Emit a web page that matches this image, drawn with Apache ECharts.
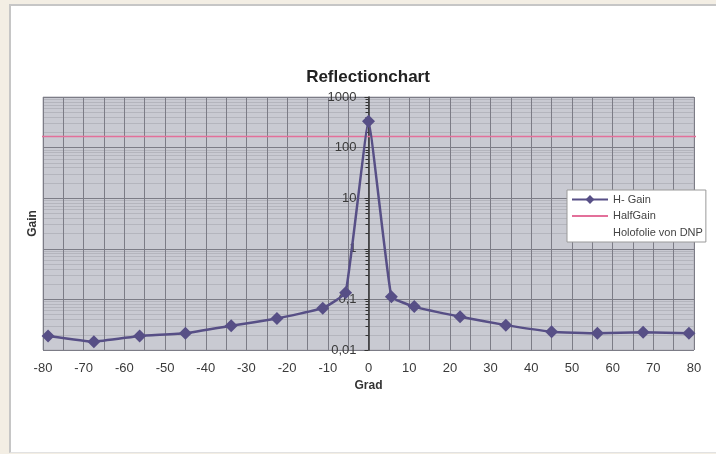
<!DOCTYPE html>
<html>
<head>
<meta charset="utf-8">
<script src="https://cdn.jsdelivr.net/npm/echarts@6/dist/echarts.min.js"></script>
<style>
  html, body { margin: 0; padding: 0; width: 716px; height: 454px; overflow: hidden; background: #f3eee4; }
  #frame { position: absolute; left: 9px; top: 4px; width: 707px; height: 446px; background: #ffffff;
           border-left: 2px solid #c6c6c6; border-top: 2px solid #c6c6c6; border-bottom: 1px solid #e2e2e2; }
  #chart { position: absolute; left: 0; top: 0; width: 716px; height: 454px; }
</style>
</head>
<body>
<div id="frame"></div>
<div id="chart"></div>
<script>
// Data
const angles = [-78.75, -67.5, -56.25, -45, -33.75, -22.5, -11.25, -5.625, 0, 5.625, 11.25, 22.5, 33.75, 45, 56.25, 67.5, 78.75];
const hGain  = [0.019, 0.0146, 0.019, 0.0214, 0.030, 0.042, 0.067, 0.135, 330, 0.113, 0.072, 0.0455, 0.031, 0.023, 0.0214, 0.0224, 0.0214];
const halfGainValue = 165;
const halfGainX = [-82, 83];
const seriesNames = ['H- Gain', 'HalfGain', 'Holofolie von DNP'];
const titleText = 'Reflectionchart';
const xName = 'Grad';
const yName = 'Gain';
const xMin = -80, xMax = 80;

const font = '"Liberation Sans", Arial, sans-serif';
const gridLeft = 43, gridRight = 22;
const plotWidth = 716 - gridLeft - gridRight;
// y-axis crosses the x-axis at 0 (shift from the grid's left edge)
const yAxisShift = plotWidth * (0 - xMin) / (xMax - xMin);

const chart = echarts.init(document.getElementById('chart'), null, { renderer: 'canvas' });

const option = {
  animation: false,
  backgroundColor: 'transparent',
  title: {
    text: titleText, left: 363, top: 64, textAlign: 'center',
    textStyle: { fontFamily: font, fontSize: 17, fontWeight: 'bold', color: '#222' }
  },
  legend: {
    orient: 'vertical', left: 567, top: 190,
    backgroundColor: '#ffffff', borderColor: '#9a9a9a', borderWidth: 1,
    padding: [4, 3, 4, 4], itemGap: 5.5, itemWidth: 36, itemHeight: 11,
    textStyle: { fontFamily: font, fontSize: 11, color: '#444' },
    data: [
      { name: seriesNames[0] },
      { name: seriesNames[1], itemStyle: { opacity: 0 } },
      { name: seriesNames[2], icon: 'none' }
    ]
  },
  grid: {
    left: gridLeft, right: gridRight, top: 97, bottom: 104,
    outerBoundsMode: 'none', containLabel: false,
    show: true, backgroundColor: '#c9cad2', borderColor: '#b3b3ba', borderWidth: 1
  },
  xAxis: {
    type: 'value', min: xMin, max: xMax, interval: 10,
    name: xName, nameLocation: 'middle', nameGap: 30,
    nameTextStyle: { fontFamily: font, fontSize: 12, fontWeight: 'bold', color: '#333' },
    axisLine: { show: false },
    axisTick: { show: false },
    axisLabel: { fontFamily: font, fontSize: 13, color: '#3a3a3a', margin: 12 },
    splitLine: { show: true, lineStyle: { color: '#7c7c86', width: 1 } },
    minorTick: { show: false, splitNumber: 2 },
    minorSplitLine: { show: true, lineStyle: { color: '#7c7c86', width: 1 } }
  },
  yAxis: {
    type: 'log', logBase: 10, min: 0.01, max: 1000,
    position: 'left', offset: -yAxisShift,
    name: yName, nameLocation: 'middle', nameGap: 330, nameRotate: 90,
    nameTextStyle: { fontFamily: font, fontSize: 12, fontWeight: 'bold', color: '#333' },
    axisLine: { show: true, onZero: false, lineStyle: { color: '#333', width: 1.5 } },
    axisTick: { show: true, length: 4, lineStyle: { color: '#333' } },
    minorTick: { show: true, splitNumber: 9, length: 3, lineStyle: { color: '#333' } },
    axisLabel: {
      fontFamily: font, fontSize: 13, color: '#3a3a3a', margin: 12,
      formatter: v => String(v).replace('.', ',')
    },
    splitLine: { show: true, lineStyle: { color: '#7c7c86', width: 1 } },
    minorSplitLine: { show: true, lineStyle: { color: '#b4b5bd', width: 1 } }
  },
  series: [
    {
      name: seriesNames[0], type: 'line', z: 3, smooth: 0.1,
      data: angles.map((a, i) => [a, hGain[i]]),
      symbol: 'diamond', symbolSize: 13,
      lineStyle: { color: '#574f86', width: 2.5 },
      itemStyle: { color: '#574f86' }
    },
    {
      name: seriesNames[1], type: 'line', z: 2, clip: false,
      data: halfGainX.map(x => [x, halfGainValue]),
      showSymbol: false, symbol: 'none',
      lineStyle: { color: '#e3709a', width: 1.5 },
      itemStyle: { color: '#e3709a' }
    },
    {
      name: seriesNames[2], type: 'line', data: [],
      lineStyle: { opacity: 0 }, itemStyle: { opacity: 0 }
    }
  ]
};
chart.setOption(option);
</script>
</body>
</html>
